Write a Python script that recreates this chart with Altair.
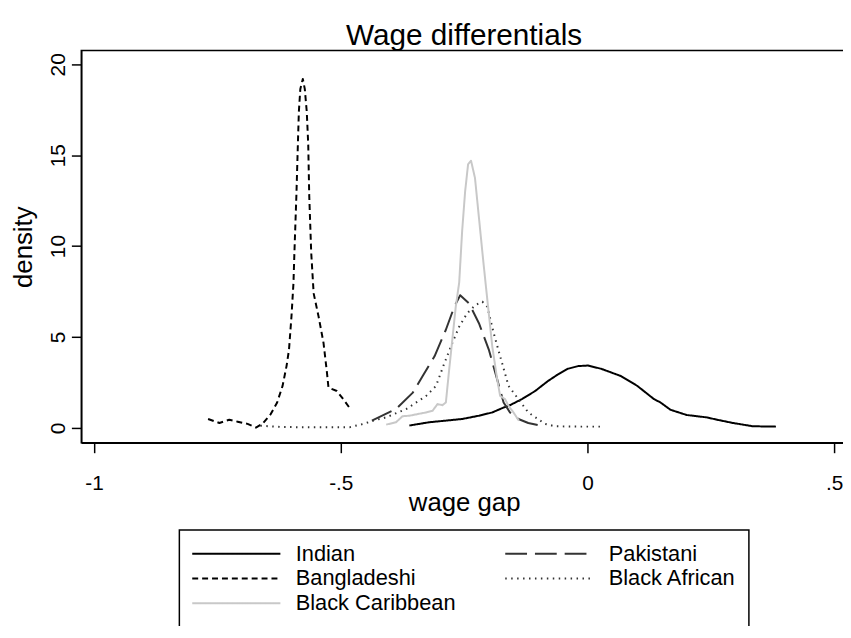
import altair as alt
import pandas as pd

groups = ["Indian", "Pakistani", "Bangladeshi", "Black African", "Black Caribbean"]

indian_x = [-0.361, -0.321, -0.287, -0.254, -0.220, -0.193, -0.170, -0.160, -0.133, -0.106,
            -0.080, -0.060, -0.040, -0.019, 0.001, 0.028, 0.068, 0.101, 0.135, 0.148,
            0.168, 0.201, 0.241, 0.268, 0.295, 0.335, 0.382]
indian_y = [0.13, 0.31, 0.40, 0.49, 0.67, 0.85, 1.12, 1.21, 1.58, 2.03,
            2.58, 2.94, 3.25, 3.40, 3.43, 3.25, 2.85, 2.31, 1.58, 1.40,
            1.00, 0.71, 0.58, 0.42, 0.27, 0.09, 0.07]

pakistani_x = [-0.437, -0.388, -0.354, -0.334, -0.310, -0.287, -0.270, -0.258, -0.240, -0.220,
               -0.200, -0.183, -0.170, -0.157, -0.140, -0.120, -0.086]
pakistani_y = [0.40, 1.04, 1.94, 2.85, 3.94, 5.40, 6.66, 7.30, 6.85, 5.76,
               4.31, 2.67, 1.40, 0.85, 0.49, 0.27, 0.07]

bangladeshi_x = [-0.769, -0.746, -0.726, -0.709, -0.689, -0.672, -0.659, -0.642, -0.629, -0.618,
                 -0.610, -0.605, -0.600, -0.596, -0.594, -0.590, -0.587, -0.585, -0.582, -0.577,
                 -0.573, -0.569, -0.566, -0.564, -0.560, -0.555, -0.545, -0.535, -0.528, -0.525,
                 -0.508, -0.495, -0.483]
bangladeshi_y = [0.49, 0.27, 0.45, 0.34, 0.22, 0.02, 0.22, 0.76, 1.40, 2.31,
                 3.40, 4.30, 6.12, 7.94, 9.66, 12.8, 15.6, 17.4, 18.65, 19.2,
                 18.65, 17.4, 15.6, 12.8, 9.66, 7.40, 6.12, 4.67, 3.03, 2.22,
                 2.03, 1.58, 1.13]

african_x = [-0.663, -0.62, -0.56, -0.50, -0.482, -0.454, -0.434, -0.408, -0.367, -0.327,
             -0.307, -0.291, -0.274, -0.260, -0.244, -0.227, -0.213, -0.203, -0.190, -0.177,
             -0.160, -0.140, -0.120, -0.086, -0.066, -0.02, 0.034]
african_y = [0.12, 0.05, 0.03, 0.03, 0.04, 0.22, 0.40, 0.58, 1.04, 1.76,
             2.31, 3.49, 4.67, 5.57, 6.30, 6.76, 6.94, 6.66, 5.21, 3.94,
             2.31, 1.58, 0.85, 0.22, 0.09, 0.07, 0.07]

caribbean_x = [-0.408, -0.388, -0.375, -0.361, -0.344, -0.327, -0.314, -0.304, -0.294, -0.287,
               -0.281, -0.274, -0.267, -0.260, -0.254, -0.248, -0.242, -0.236, -0.228, -0.220,
               -0.212, -0.205, -0.200, -0.193, -0.183, -0.177, -0.167, -0.160, -0.150, -0.139]
caribbean_y = [0.18, 0.31, 0.64, 0.67, 0.76, 0.85, 0.94, 1.31, 1.25, 1.40,
               3.03, 4.85, 6.66, 8.00, 10.84, 13.0, 14.5, 14.7, 13.75, 11.57,
               9.39, 7.57, 6.30, 4.49, 2.67, 1.76, 1.58, 1.21, 0.85, 0.40]

x_ticks = [-1, -0.5, 0, 0.5]
y_ticks = [0, 5, 10, 15, 20]

series = [
    ("Indian", indian_x, indian_y),
    ("Pakistani", pakistani_x, pakistani_y),
    ("Bangladeshi", bangladeshi_x, bangladeshi_y),
    ("Black African", african_x, african_y),
    ("Black Caribbean", caribbean_x, caribbean_y),
]
rows = []
for name, xs, ys in series:
    for xv, yv in zip(xs, ys):
        rows.append({"group": name, "gap": xv, "density": yv})
df = pd.DataFrame(rows)

FONT = "Liberation Sans"
colors = ["#000000", "#333333", "#000000", "#333333", "#c8c8c8"]
dashes = [[1, 0], [22, 8], [6, 4], [1.5, 4.5], [1, 0]]
widths = [2, 2, 2, 1.4, 2]

leg = alt.Legend(
    title=None, orient="none", legendX=99, legendY=484, columns=2, direction="horizontal",
    columnPadding=46, rowPadding=3, padding=13, strokeColor="black",
    symbolType="M-4.45,0H4.45", symbolSize=400, symbolStrokeWidth=2,
    symbolOffset=33.5, labelOffset=49, labelFontSize=22, labelFont=FONT,
    labelColor="black", labelLimit=400, gridAlign="each",
)

chart = alt.Chart(df).mark_line(strokeCap="butt", strokeJoin="round").encode(
    x=alt.X("gap:Q",
            scale=alt.Scale(domain=[-1.026, 0.526], nice=False, zero=False),
            axis=alt.Axis(title="wage gap", values=x_ticks,
                          labelExpr="datum.value == -1 ? '-1' : datum.value == -0.5 ? '-.5' : datum.value == 0.5 ? '.5' : '0'",
                          labelBaseline="top", labelPadding=20,
                          titleY=68, titleBaseline="alphabetic")),
    y=alt.Y("density:Q",
            scale=alt.Scale(domain=[-0.82, 20.76], nice=False, zero=False),
            axis=alt.Axis(title="density", values=y_ticks, format="d",
                          labelAngle=270, labelAlign="center", labelBaseline="alphabetic",
                          labelPadding=7, titleX=-50, titleBaseline="alphabetic")),
    color=alt.Color("group:N", scale=alt.Scale(domain=groups, range=colors), legend=leg),
    strokeDash=alt.StrokeDash("group:N", scale=alt.Scale(domain=groups, range=dashes), legend=leg),
    strokeWidth=alt.StrokeWidth("group:N", scale=alt.Scale(domain=groups, range=widths), legend=None),
).properties(
    width=773, height=396,
    autosize=alt.AutoSizeParams(type="none"),
    padding={"left": 74, "top": 40, "right": -4, "bottom": 182},
    title=alt.TitleParams("Wage differentials", fontSize=30, font=FONT, fontWeight="normal",
                          anchor="middle", frame="group", offset=-24,
                          baseline="alphabetic", color="black"),
).configure_view(
    stroke="black", strokeWidth=1.5
).configure_axis(
    grid=False, tickSize=10, tickWidth=1.5, tickColor="black",
    domainColor="black", domainWidth=1.5,
    labelFont=FONT, labelFontSize=21, labelColor="black",
    titleFont=FONT, titleFontSize=26, titleColor="black", titleFontWeight="normal",
).configure_legend(
    strokeWidth=1.5
)

chart.save("out.html", embed_options={"renderer": "svg", "actions": False})
